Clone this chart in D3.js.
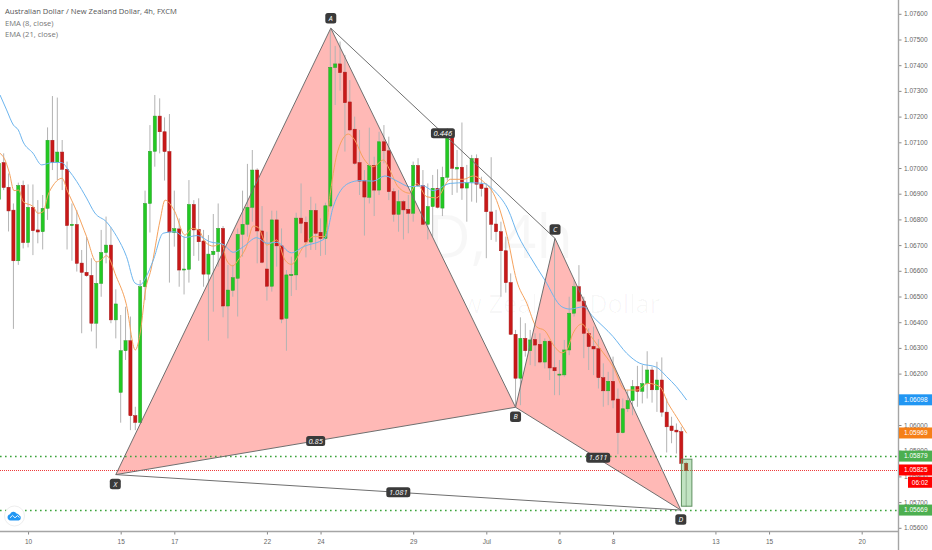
<!DOCTYPE html>
<html><head><meta charset="utf-8">
<script src="https://cdn.jsdelivr.net/npm/d3@7"></script>
<style>html,body{margin:0;padding:0;background:#fff;overflow:hidden}svg{display:block}</style>
</head><body><svg id="c" width="932" height="550"></svg>
<script>
const opens=[1.06878,1.07021,1.06925,1.06836,1.06639,1.06932,1.06710,1.06847,1.06759,1.06752,1.06843,1.07108,1.07021,1.07062,1.06995,1.06776,1.06780,1.06630,1.06594,1.06582,1.06396,1.06551,1.06671,1.06700,1.06409,
1.06127,1.06289,1.06328,1.06036,1.06010,1.06538,1.06862,1.07065,1.07202,1.07141,1.07064,1.06749,1.06763,1.06603,1.06606,1.06858,1.06761,1.06716,1.06587,1.06663,1.06675,1.06765,1.06463,1.06524,1.06571,1.06742,1.06781,1.06847,1.06992,1.06755,1.06607,1.06540,1.06798,1.06697,1.06415,
1.06581,1.06584,1.06805,1.06789,1.06712,1.06835,1.06750,1.06726,1.06852,1.07391,1.07405,1.07373,1.07257,1.07151,1.07021,1.06952,1.06886,1.07010,1.06914,1.07102,1.07067,1.06908,1.06820,1.06869,1.06839,1.06824,1.07010,1.06932,1.06781,1.06850,1.06921,
1.06844,1.06964,1.07133,1.06996,1.07003,1.06922,1.06944,1.07037,1.06937,1.06922,1.06829,1.06782,1.06752,1.06678,1.06554,1.06353,1.06182,1.06337,1.06289,1.06333,1.06314,1.06245,1.06326,1.06223,1.06195,1.06195,1.06292,1.06435,1.06538,1.06482,1.06357,
1.06306,1.06297,1.06184,1.06133,1.06170,1.06101,1.05970,1.06063,1.06095,1.06150,1.06131,1.06161,1.06214,1.06137,1.06175,1.06050,1.05996,1.05980,1.05974,1.05851];
const highs=[1.07057,1.07057,1.06979,1.06862,1.06943,1.06951,1.06936,1.06936,1.06875,1.06895,1.07158,1.07280,1.07274,1.07109,1.07025,1.06862,1.06836,1.06681,1.06733,1.06649,1.06636,1.06759,1.06811,1.06769,1.06528,
1.06428,1.06460,1.06422,1.06071,1.06564,1.06912,1.07167,1.07284,1.07271,1.07197,1.07210,1.06912,1.06804,1.06733,1.06953,1.06875,1.06882,1.06759,1.06739,1.06821,1.06862,1.06774,1.06623,1.06623,1.06765,1.06912,1.07016,1.07070,1.06999,1.06852,1.06752,1.06834,1.06834,1.06765,1.06603,
1.06655,1.06826,1.06940,1.06811,1.06888,1.06862,1.06804,1.06865,1.07537,1.07475,1.07492,1.07440,1.07342,1.07200,1.07148,1.06992,1.07157,1.07044,1.07141,1.07167,1.07122,1.06921,1.06914,1.06875,1.06895,1.07025,1.07038,1.06992,1.06940,1.06973,1.06995,
1.07005,1.07155,1.07148,1.07070,1.07177,1.07012,1.07051,1.07053,1.06966,1.06940,1.07042,1.06837,1.06791,1.06733,1.06590,1.06370,1.06419,1.06396,1.06370,1.06357,1.06357,1.06337,1.06331,1.06726,1.06253,1.06331,1.06499,1.06564,1.06622,1.06499,1.06376,
1.06383,1.06334,1.06240,1.06207,1.06266,1.06142,1.06103,1.06136,1.06175,1.06230,1.06233,1.06287,1.06227,1.06246,1.06263,1.06103,1.06032,1.06006,1.05993,1.05857];
const lows=[1.06869,1.06914,1.06753,1.06374,1.06623,1.06687,1.06691,1.06661,1.06707,1.06683,1.06798,1.06992,1.06953,1.06914,1.06683,1.06639,1.06597,1.06357,1.06577,1.06364,1.06298,1.06499,1.06629,1.06396,1.06337,
1.06009,1.06253,1.05980,1.05980,1.06006,1.06486,1.06749,1.07005,1.07057,1.06951,1.06554,1.06694,1.06538,1.06508,1.06554,1.06658,1.06639,1.06538,1.06328,1.06441,1.06616,1.06419,1.06337,1.06499,1.06422,1.06655,1.06733,1.06791,1.06629,1.06629,1.06484,1.06519,1.06616,1.06396,1.06289,
1.06502,1.06525,1.06746,1.06652,1.06681,1.06681,1.06658,1.06662,1.06843,1.07245,1.07301,1.07064,1.07142,1.07012,1.06895,1.06737,1.06862,1.06813,1.06895,1.07018,1.06875,1.06791,1.06752,1.06722,1.06746,1.06791,1.06927,1.06778,1.06722,1.06733,1.06843,
1.06813,1.06951,1.06895,1.06904,1.06876,1.06791,1.06869,1.06865,1.06889,1.06649,1.06720,1.06713,1.06499,1.06515,1.06350,1.06071,1.06077,1.06266,1.06233,1.06229,1.06240,1.06220,1.06175,1.06116,1.06116,1.06188,1.06272,1.06422,1.06480,1.06260,1.06214,
1.06194,1.06142,1.06071,1.06077,1.06065,1.05886,1.05967,1.06051,1.06038,1.06071,1.06084,1.06103,1.06087,1.06051,1.06032,1.05893,1.05929,1.05889,1.05847,1.05682];
const closes=[1.07018,1.06924,1.06833,1.06639,1.06932,1.06710,1.06847,1.06756,1.06751,1.06843,1.07108,1.07021,1.07062,1.06995,1.06776,1.06781,1.06629,1.06594,1.06581,1.06396,1.06551,1.06671,1.06700,1.06409,1.06471,
1.06289,1.06328,1.06036,1.06010,1.06538,1.06862,1.07065,1.07202,1.07141,1.07064,1.06751,1.06764,1.06603,1.06607,1.06858,1.06759,1.06713,1.06587,1.06665,1.06676,1.06765,1.06463,1.06525,1.06573,1.06742,1.06781,1.06847,1.06992,1.06755,1.06633,1.06540,1.06798,1.06697,1.06412,1.06584,
1.06586,1.06805,1.06785,1.06712,1.06835,1.06746,1.06726,1.06853,1.07392,1.07405,1.07371,1.07254,1.07148,1.07018,1.06949,1.06887,1.07010,1.06914,1.07102,1.07067,1.06908,1.06820,1.06869,1.06837,1.06824,1.07010,1.06932,1.06781,1.06850,1.06921,1.06847,
1.06964,1.07133,1.06999,1.07003,1.06922,1.06944,1.07037,1.06937,1.06920,1.06830,1.06781,1.06752,1.06678,1.06554,1.06353,1.06182,1.06337,1.06289,1.06331,1.06311,1.06245,1.06326,1.06222,1.06211,1.06198,1.06292,1.06435,1.06538,1.06482,1.06357,1.06305,
1.06296,1.06184,1.06133,1.06170,1.06097,1.05970,1.06063,1.06095,1.06150,1.06131,1.06161,1.06214,1.06137,1.06175,1.06050,1.05993,1.05978,1.05973,1.05851,1.05822];

const ema21Bars=[0.25,1.6,3,4,5,7,8.8,9.8,11,12.9,14.3,16,18,19.7,22.1,24.2,26.2,27.9,29,30.1,31.7,33.7,36.1,38.2,40.7,43.3,46,48.1,50.2,52.9,55,57,60,62.5,66.9,68.6,71.7,74.1,76.8,79.2,81.9,84.3,87,89.1,92.6,96,99.4,102.1,104.5,106.5,109,112,115.5,117.2,119.9,121.9,126,128.8,131.5,134.9,137,139,141.1];
const ema21=[1.07284,1.07226,1.07167,1.07148,1.07101,1.07058,1.07012,1.07016,1.07022,1.07021,1.06992,1.06947,1.06883,1.06825,1.06790,1.06733,1.06655,1.06553,1.06545,1.06572,1.06642,1.06746,1.06752,1.06730,1.06737,1.06713,1.06703,1.06672,1.06694,1.06729,1.06707,1.06711,1.06670,1.06694,1.06726,1.06849,1.06940,1.06951,1.06949,1.06969,1.06947,1.06927,1.06931,1.06912,1.06940,1.06943,1.06940,1.06902,1.06837,1.06739,1.06655,1.06564,1.06460,1.06451,1.06460,1.06421,1.06344,1.06279,1.06240,1.06225,1.06188,1.06149,1.06097];
const ema8Bars=[0.25,1.1,2.2,3.1,4.1,5,7.1,8,9.1,10.1,11.2,13,14,16,18,20,21,22.1,24.1,26.1,28,29.1,30.1,31.2,33.1,34.1,36,38.2,39.6,41,42.3,44,45.7,46.7,48,49.1,50.8,52.2,53.2,55,57,58.7,60,62.5,64.5,66.9,68,69.6,71.7,73,74.8,76.8,78.9,80.2,81.9,84.3,85.7,87.8,89.8,92.6,95.3,97.3,99.4,101.8,104.3,106.2,108.3,110.3,112,114,115.5,116.5,117.8,119.6,121.3,123.3,126,128.5,130.9,133.2,135.6,137.3,139,141.1];
const ema8=[1.07057,1.07038,1.06979,1.06912,1.06914,1.06869,1.06849,1.06824,1.06830,1.06895,1.06934,1.06960,1.06914,1.06830,1.06733,1.06635,1.06642,1.06659,1.06577,1.06474,1.06292,1.06370,1.06525,1.06603,1.06798,1.06875,1.06834,1.06739,1.06765,1.06759,1.06713,1.06696,1.06707,1.06642,1.06619,1.06642,1.06694,1.06774,1.06769,1.06700,1.06720,1.06642,1.06625,1.06694,1.06733,1.06733,1.06902,1.07070,1.07132,1.07109,1.07038,1.07005,1.07031,1.06992,1.06927,1.06902,1.06940,1.06888,1.06884,1.06956,1.06956,1.06969,1.06947,1.06888,1.06733,1.06564,1.06474,1.06382,1.06367,1.06305,1.06281,1.06292,1.06357,1.06393,1.06350,1.06298,1.06227,1.06136,1.06136,1.06162,1.06149,1.06084,1.06032,1.05968];

const pivotNames=["X","A","B","C","D"];
const pivotBars=[24,68.1,106,114.1,139.9];
const pivotPrices=[1.05807,1.07544,1.06069,1.06726,1.05669];
const ratioLabels=["0.446","0.85","1.611","1.081"];
const ratioPairs=[[1,3],[0,2],[2,4],[0,4]];
const triangles=[[0,1,2],[2,3,4]];
const edges=[[0,1],[1,2],[2,0],[2,3],[3,4],[4,2],[1,3],[0,4]];

const priceTicks=[1.076,1.075,1.074,1.073,1.072,1.071,1.07,1.069,1.068,1.067,1.066,1.065,1.064,1.063,1.062,1.061,1.06,1.059,1.058,1.057,1.056];
const dateLabels=["10","15","17","22","24","29","Jul","6","8","13","15","20"];
const dateBars=[6,25,36,55,66,85,100,115,126,147,158,177];
const badgePrices=[1.06098,1.05969,1.05879,1.05825,1.05669];
const badgeColors=["#2196f3","#f57f17","#4caf50","#ff0000","#4caf50"];
const hLinePrices=[1.05879,1.05669,1.05825];
const hLineColors=["#3aa33a","#3aa33a","#ee3a3a"];
const positionBox={startBar:139.9,endBar:142.05,top:1.05867,bottom:1.05684};
const legendLines=["Australian Dollar / New Zealand Dollar, 4h, FXCM","EMA (8, close)","EMA (21, close)"];

const W=932,H=550,R=898.5,B=531.5;
const FONT="'Open Sans',sans-serif",AXF="'Liberation Sans',sans-serif",AXS=6.5;
const svg=d3.select("#c");
const x=d3.scaleLinear().domain([0,1]).range([-1.2,3.675]);
const y=d3.scaleLinear().domain([1.056,1.076]).range([527.8,13.8]);

// watermark
const wm=svg.append("g").attr("fill","#000").attr("fill-opacity",0.03).attr("text-anchor","end").attr("font-family",FONT);
wm.append("text").attr("x",573).attr("y",258).attr("font-size",60).text("AUDNZD, 4h");
wm.append("text").attr("x",660).attr("y",313).attr("font-size",25.3).text("Australian Dollar / New Zealand Dollar");

// pattern fills
const pt=i=>[x(pivotBars[i]),y(pivotPrices[i])];
svg.append("g").selectAll("path").data(triangles).join("path")
  .attr("d",t=>d3.line()(t.map(pt))+"Z").attr("fill","#ffb9b6");

// horizontal levels
svg.append("g").selectAll("line").data(hLinePrices).join("line")
  .attr("x1",0).attr("x2",R).attr("y1",d=>Math.round(y(d))+.5).attr("y2",d=>Math.round(y(d))+.5)
  .attr("stroke",(d,i)=>hLineColors[i])
  .attr("stroke-width",(d,i)=>i<2?1.6:1)
  .attr("stroke-dasharray",(d,i)=>i<2?"1.6 3.4":"1 1");

// candles
const bars=d3.range(opens.length);
const bw=3.2;
const cg=svg.append("g");
cg.selectAll("line").data(bars).join("line")
  .attr("x1",i=>x(i)).attr("x2",i=>x(i)).attr("y1",i=>y(highs[i])).attr("y2",i=>y(lows[i]))
  .attr("stroke","#b3b3b3").attr("stroke-width",1);
cg.selectAll("rect").data(bars).join("rect")
  .attr("x",i=>x(i)-bw/2).attr("width",bw)
  .attr("y",i=>y(Math.max(opens[i],closes[i])))
  .attr("height",i=>Math.max(1,Math.abs(y(opens[i])-y(closes[i]))))
  .attr("fill",i=>closes[i]>=opens[i]?"#22c922":"#c81818")
  .attr("stroke",i=>closes[i]>=opens[i]?"#2f9e2f":"#a81c1c").attr("stroke-width",.5);

// EMA lines
const lineOf=(bx,vals)=>d3.line().x((d,i)=>x(bx[i])).y(d=>y(d)).curve(d3.curveMonotoneX)(vals);
svg.append("path").attr("d",lineOf(ema8Bars,ema8)).attr("fill","none").attr("stroke","#f5a25d").attr("stroke-width",1);
svg.append("path").attr("d",lineOf(ema21Bars,ema21)).attr("fill","none").attr("stroke","#6db5ee").attr("stroke-width",1);

// pattern edges
svg.append("g").selectAll("line").data(edges).join("line")
  .attr("x1",e=>pt(e[0])[0]).attr("y1",e=>pt(e[0])[1]).attr("x2",e=>pt(e[1])[0]).attr("y2",e=>pt(e[1])[1])
  .attr("stroke","#6f6f6f").attr("stroke-width",1);

// position box
svg.append("rect")
  .attr("x",x(positionBox.startBar)+.6).attr("width",x(positionBox.endBar)-x(positionBox.startBar))
  .attr("y",y(positionBox.top)).attr("height",y(positionBox.bottom)-y(positionBox.top))
  .attr("fill","#4caf50").attr("fill-opacity",.35).attr("stroke","#5f8f5f").attr("stroke-width",1);

// ratio and pivot badges
const badge=(cx,cy,w,h,t,fs)=>{
  const g=svg.append("g");
  g.append("rect").attr("x",cx-w/2).attr("y",cy-h/2).attr("width",w).attr("height",h).attr("rx",2.5).attr("fill","#3a3a3a");
  g.append("text").attr("x",cx).attr("y",cy+fs*.36).attr("text-anchor","middle").attr("font-family",FONT)
   .attr("font-size",fs).attr("font-style","italic").attr("fill","#fff").text(t);
};
ratioLabels.forEach((t,i)=>{
  const [a,b]=ratioPairs[i],pa=pt(a),pb=pt(b);
  badge((pa[0]+pb[0])/2,(pa[1]+pb[1])/2-(i==2?1:0),t.length>4?24:19,10,t,7.6);
});
pivotNames.forEach((n,i)=>{
  const p=pt(i);
  badge(p[0]-(n=="X"?0.5:0),p[1]+(n=="A"?-10:n=="C"?-9:9.5),11,10.5,n,7);
});

// axes
const yAxis=svg.append("g").attr("transform",`translate(${R},0)`)
  .call(d3.axisRight(y).tickValues(priceTicks).tickFormat(d3.format(".5f")).tickSize(3).tickPadding(2.5));
const xAxis=svg.append("g").attr("transform",`translate(0,${B})`)
  .call(d3.axisBottom(x).tickValues(dateBars).tickFormat((d,i)=>dateLabels[i]).tickSize(3).tickPadding(4.8));
[yAxis,xAxis].forEach(a=>{
  a.selectAll("text").attr("font-family",AXF).attr("font-size",AXS).attr("fill","#666");
  a.selectAll(".tick line").attr("stroke","#888");
});
xAxis.select(".domain").remove();yAxis.select(".domain").remove();
svg.append("line").attr("x1",0).attr("x2",R+.5).attr("y1",B).attr("y2",B).attr("stroke","#a5a5a5").attr("stroke-width",1.4);
svg.append("line").attr("x1",R).attr("x2",R).attr("y1",0).attr("y2",H).attr("stroke","#a5a5a5").attr("stroke-width",1.4);

// price badges
const bg=svg.append("g").selectAll("g").data(badgePrices).join("g");
bg.append("rect").attr("x",R+.5).attr("y",d=>y(d)-5.5).attr("width",W-R).attr("height",11).attr("fill",(d,i)=>badgeColors[i]);
bg.append("text").attr("x",904).attr("y",d=>y(d)+2.4).attr("font-family",AXF).attr("font-size",AXS).attr("fill","#fff").text(d=>d.toFixed(5));
svg.append("rect").attr("x",908).attr("y",y(1.05825)+6.8).attr("width",24).attr("height",11).attr("fill","#ff0000");
svg.append("text").attr("x",920).attr("y",y(1.05825)+14.8).attr("text-anchor","middle").attr("font-family",AXF).attr("font-size",AXS).attr("fill","#fff").text("06:02");

// legend
svg.append("g").selectAll("text").data(legendLines).join("text")
  .attr("x",5).attr("y",(d,i)=>[14,26,37][i]).attr("font-family",FONT).attr("font-size",7.6)
  .attr("fill",(d,i)=>i?"#777":"#555").attr("font-weight",(d,i)=>i?400:500).text(d=>d);

// logo
const logo=svg.append("g").attr("transform","translate(14.5,516)");
logo.append("circle").attr("r",10).attr("fill","#fff").attr("stroke","#eee");
logo.append("path").attr("d","M-4,4.5 A3.2,3.2 0 0 1 -4.5,-1.8 A3.6,3.6 0 0 1 2,-2.6 A3,3 0 0 1 4.6,-0.8 A2.8,2.8 0 0 1 4.2,4.5 Z").attr("fill","#2196f3");
logo.append("path").attr("d","M-4.5,1.8 L-2,-0.6 L0.5,1.8 L3,-0.4 L5,1.5").attr("fill","none").attr("stroke","#fff").attr("stroke-width",.9);
</script></body></html>
